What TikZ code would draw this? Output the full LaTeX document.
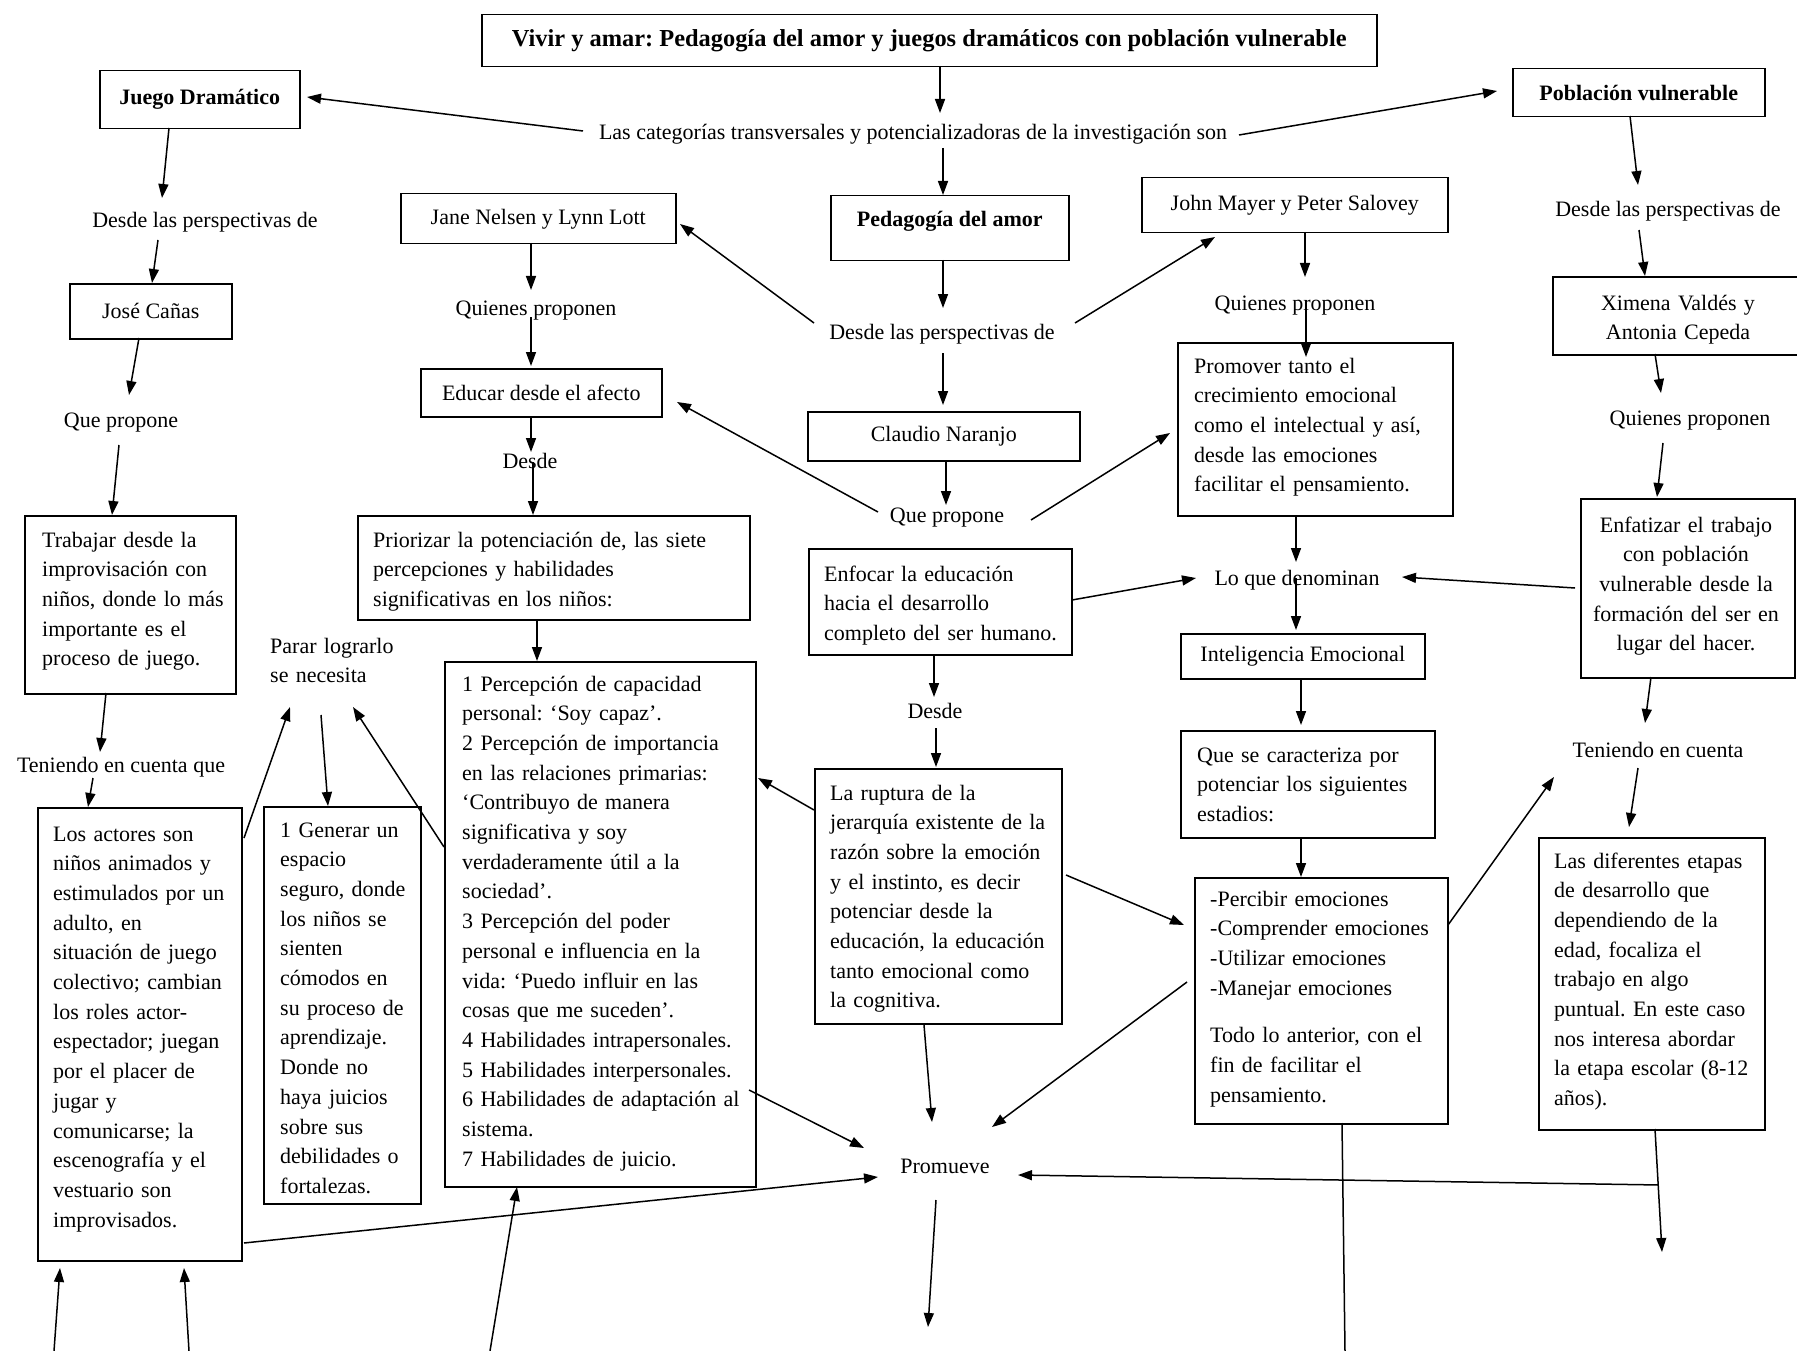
\documentclass[tikz,border=0pt]{standalone}
\usepackage{fontspec}
\setmainfont{Liberation Serif}
\usetikzlibrary{arrows.meta,calc}
\begin{document}
\begin{tikzpicture}[x=1pt,y=-1pt,
  fnt/.style={font=\frenchspacing\fontsize{22}{29.7}\selectfont},
  box/.style={draw, line width=1.5pt, rectangle, inner sep=0pt, anchor=north west, fnt},
  lbl/.style={fnt, inner sep=0pt, anchor=base},
  mtxt/.style={fnt, inner sep=0pt, anchor=base west, text width=300pt, align=left},
  ctxt/.style={fnt, inner sep=0pt, anchor=base, text width=240pt, align=center},
  arr/.style={-{Triangle[length=14pt,width=10pt]}, line width=1.5pt},
  ln/.style={line width=1.5pt}]
\fill[white] (0,0) rectangle (1797,1351);
\useasboundingbox (0,0) rectangle (1797,1351);

% ---------- boxes ----------
\node[box, minimum width=895pt, minimum height=52pt, font=\frenchspacing\fontsize{24.4}{29.7}\selectfont] (title) at (481,14) {\bfseries Vivir y amar: Pedagogía del amor y juegos dramáticos con población vulnerable};
\node[box, minimum width=200pt, minimum height=58pt] (jd) at (99,70) {\bfseries Juego Dramático};
\node[box, minimum width=252pt, minimum height=48pt] (pv) at (1512,68) {\bfseries Población vulnerable};
\node[box, minimum width=238pt, minimum height=65pt, text height=16pt, text depth=19pt] (pa) at (830,195) {\bfseries Pedagogía del amor};
\node[box, minimum width=275pt, minimum height=50pt] (jn) at (400,193) {Jane Nelsen y Lynn Lott};
\node[box, minimum width=306pt, minimum height=55pt] (jm) at (1141,177) {John Mayer y Peter Salovey};
\node[box, minimum width=162pt, minimum height=55pt] (jc) at (69,283) {José Cañas};
\node[box, minimum width=256pt, minimum height=78pt] (xv) at (1552,276) {};
\node[box, minimum width=241pt, minimum height=48pt] (ea) at (420,368) {Educar desde el afecto};
\node[box, minimum width=272pt, minimum height=49pt] (cn) at (807,411) {Claudio Naranjo};
\node[box, minimum width=275pt, minimum height=173pt] (prov) at (1177,342) {};
\node[box, minimum width=214pt, minimum height=179pt] (enft) at (1580,498) {};
\node[box, minimum width=211pt, minimum height=178pt] (trab) at (24,515) {};
\node[box, minimum width=392pt, minimum height=104pt] (pri) at (357,515) {};
\node[box, minimum width=263pt, minimum height=106pt] (enf) at (808,548) {};
\node[box, minimum width=244pt, minimum height=45pt] (ie) at (1180,633) {Inteligencia Emocional};
\node[box, minimum width=311pt, minimum height=525pt] (list) at (444,661) {};
\node[box, minimum width=254pt, minimum height=107pt] (qsc) at (1180,730) {};
\node[box, minimum width=247pt, minimum height=255pt] (rup) at (814,768) {};
\node[box, minimum width=204pt, minimum height=453pt] (actores) at (37,807) {};
\node[box, minimum width=157pt, minimum height=397pt] (gen) at (263,806) {};
\node[box, minimum width=226pt, minimum height=292pt] (etapas) at (1538,837) {};
\node[box, minimum width=253pt, minimum height=246pt] (perc) at (1194,877) {};

% ---------- box texts ----------
\node[ctxt] (xvT) at (1678,310) {Ximena Valdés y\\Antonia Cepeda};
\node[ctxt, text width=210pt] (enftT) at (1686,532) {Enfatizar el trabajo\\con población\\vulnerable desde la\\formación del ser en\\lugar del hacer.};
\node[mtxt] (trabT) at (42,547) {Trabajar desde la\\improvisación con\\niños, donde lo más\\importante es el\\proceso de juego.};
\node[mtxt, text width=400pt] (priT) at (373,547) {Priorizar la potenciación de, las siete\\percepciones y habilidades\\significativas en los niños:};
\node[mtxt] (listT) at (462,691) {1 Percepción de capacidad\\personal: ‘Soy capaz’.\\2 Percepción de importancia\\en las relaciones primarias:\\‘Contribuyo de manera\\significativa y soy\\verdaderamente útil a la\\sociedad’.\\3 Percepción del poder\\personal e influencia en la\\vida: ‘Puedo influir en las\\cosas que me suceden’.\\4 Habilidades intrapersonales.\\5 Habilidades interpersonales.\\6 Habilidades de adaptación al\\sistema.\\7 Habilidades de juicio.};
\node[mtxt] (actT) at (53,841) {Los actores son\\niños animados y\\estimulados por un\\adulto, en\\situación de juego\\colectivo; cambian\\los roles actor-\\espectador; juegan\\por el placer de\\jugar y\\comunicarse; la\\escenografía y el\\vestuario son\\improvisados.};
\node[mtxt] (genT) at (280,837) {1 Generar un\\espacio\\seguro, donde\\los niños se\\sienten\\cómodos en\\su proceso de\\aprendizaje.\\Donde no\\haya juicios\\sobre sus\\debilidades o\\fortalezas.};
\node[mtxt] (enfT) at (824,581) {Enfocar la educación\\hacia el desarrollo\\completo del ser humano.};
\node[mtxt] (rupT) at (830,800) {La ruptura de la\\jerarquía existente de la\\razón sobre la emoción\\y el instinto, es decir\\potenciar desde la\\educación, la educación\\tanto emocional como\\la cognitiva.};
\node[mtxt] (provT) at (1194,373) {Promover tanto el\\crecimiento emocional\\como el intelectual y así,\\desde las emociones\\facilitar el pensamiento.};
\node[mtxt] (qscT) at (1197,762) {Que se caracteriza por\\potenciar los siguientes\\estadios:};
\node[mtxt] (percT) at (1210,906) {-Percibir emociones\\-Comprender emociones\\-Utilizar emociones\\-Manejar emociones\\[18pt]Todo lo anterior, con el\\fin de facilitar el\\pensamiento.};
\node[mtxt] (etT) at (1554,868) {Las diferentes etapas\\de desarrollo que\\dependiendo de la\\edad, focaliza el\\trabajo en algo\\puntual. En este caso\\nos interesa abordar\\la etapa escolar (8-12\\años).};

% ---------- labels ----------
\node[lbl] (cat) at (913,140) {Las categorías transversales y potencializadoras de la investigación son};
\node[lbl] (dpL) at (205,228) {Desde las perspectivas de};
\node[lbl] (qpL) at (121,427) {Que propone};
\node[lbl] (tecq) at (121,772) {Teniendo en cuenta que};
\node[mtxt, text width=150pt] (parar) at (270,653) {Parar lograrlo\\se necesita};
\node[lbl] (qpnL) at (536,315) {Quienes proponen};
\node[lbl] (desde1) at (530,468) {Desde};
\node[lbl] (dpC) at (942,339) {Desde las perspectivas de};
\node[lbl] (qpC) at (947,522) {Que propone};
\node[lbl] (desde2) at (935,718) {Desde};
\node[lbl] (prom) at (945,1173) {Promueve};
\node[lbl] (qpnC) at (1295,310) {Quienes proponen};
\node[lbl] (lqd) at (1297,585) {Lo que denominan};
\node[lbl] (dpR) at (1668,217) {Desde las perspectivas de};
\node[lbl] (qpnR) at (1690,425) {Quienes proponen};
\node[lbl] (tecR) at (1658,757) {Teniendo en cuenta};

% ---------- free ends ----------
\coordinate (f1) at (54,1351);
\coordinate (f2) at (189,1351);
\coordinate (f3) at (490,1351);
\coordinate (f4) at (928,1327);
\coordinate (f5) at (1345,1351);
\coordinate (f6) at (1662,1252);

% ---------- connectors ----------
\draw[arr] ($(title.north west)+(459,52)$) -- ($(cat.base)+(27,-27)$);
\draw[arr] ($(cat.base)+(-330,-9)$) -- ($(jd.north west)+(208,27)$);
\draw[arr] ($(cat.base)+(326,-5)$) -- ($(pv.north west)+(-15,23)$);
\draw[arr] ($(cat.base)+(30,8)$) -- ($(pa.north west)+(113,0)$);
\draw[arr] ($(jd.north west)+(70,58)$) -- ($(dpL.base)+(-43,-30)$);
\draw[arr] ($(dpL.base)+(-47,12)$) -- ($(jc.north west)+(83,0)$);
\draw[arr] ($(jc.north west)+(70,55)$) -- ($(qpL.base)+(8,-32)$);
\draw[arr] ($(qpL.base)+(-2,18)$) -- ($(trab.north west)+(88,0)$);
\draw[arr] ($(trab.north west)+(82,178)$) -- ($(tecq.base)+(-21,-20)$);
\draw[arr] ($(tecq.base)+(-28,6)$) -- ($(actores.north west)+(51,0)$);
\draw[arr] ($(actores.north west)+(207,31)$) -- ($(parar.base west)+(20,54)$);
\draw[arr] ($(parar.base west)+(51,62)$) -- ($(gen.north west)+(65,0)$);
\draw[arr] ($(list.north west)+(0,186)$) -- ($(parar.base west)+(83,54)$);
\draw[arr] ($(actores.north west)+(207,436)$) -- ($(prom.base)+(-67,4)$);
\draw[arr] (f1) -- ($(actores.north west)+(23,461)$);
\draw[arr] (f2) -- ($(actores.north west)+(147,461)$);
\draw[arr] (f3) -- ($(list.north west)+(73,526)$);
\draw[arr] ($(list.north west)+(305,429)$) -- ($(prom.base)+(-81,-25)$);
\draw[arr] ($(rup.north west)+(0,42)$) -- ($(list.north west)+(314,117)$);
\draw[arr] ($(jn.north west)+(131,50)$) -- ($(qpnL.base)+(-5,-25)$);
\draw[arr] ($(qpnL.base)+(-5,2)$) -- ($(ea.north west)+(111,-2)$);
\draw[arr] ($(ea.north west)+(111,48)$) -- ($(desde1.base)+(1,-16)$);
\draw[arr] ($(desde1.base)+(3,-6)$) -- ($(pri.north west)+(176,0)$);
\draw[arr] ($(pri.north west)+(180,104)$) -- ($(list.north west)+(93,0)$);
\draw[arr] ($(pa.north west)+(113,65)$) -- ($(dpC.base)+(1,-31)$);
\draw[arr] ($(dpC.base)+(1,14)$) -- ($(cn.north west)+(136,-6)$);
\draw[arr] ($(dpC.base)+(-128,-16)$) -- ($(jn.north west)+(280,31)$);
\draw[arr] ($(dpC.base)+(133,-16)$) -- ($(jm.north west)+(74,60)$);
\draw[arr] ($(cn.north west)+(139,49)$) -- ($(qpC.base)+(-1,-17)$);
\draw[arr] ($(qpC.base)+(-69,-10)$) -- ($(ea.north west)+(257,34)$);
\draw[arr] ($(qpC.base)+(84,-2)$) -- ($(prov.north west)+(-7,91)$);
\draw[arr] ($(jm.north west)+(164,55)$) -- ($(qpnC.base)+(10,-33)$);
\draw[arr] ($(qpnC.base)+(11,-10)$) -- ($(prov.north west)+(129,15)$);
\draw[arr] ($(prov.north west)+(119,173)$) -- ($(lqd.base)+(-1,-23)$);
\draw[arr] ($(lqd.base)+(-1,-7)$) -- ($(ie.north west)+(116,-3)$);
\draw[arr] ($(enf.north west)+(264,52)$) -- ($(lqd.base)+(-101,-7)$);
\draw[arr] ($(enft.north west)+(-5,90)$) -- ($(lqd.base)+(105,-8)$);
\draw[arr] ($(ie.north west)+(121,45)$) -- ($(qsc.north west)+(121,-5)$);
\draw[arr] ($(qsc.north west)+(121,107)$) -- ($(perc.north west)+(107,0)$);
\draw[arr] ($(enf.north west)+(126,106)$) -- ($(desde2.base)+(-1,-21)$);
\draw[arr] ($(desde2.base)+(1,10)$) -- ($(rup.north west)+(122,-1)$);
\draw[arr] ($(rup.north west)+(252,107)$) -- ($(perc.north west)+(-10,48)$);
\draw[arr] ($(rup.north west)+(110,257)$) -- ($(prom.base)+(-13,-51)$);
\draw[arr] ($(perc.north west)+(-7,105)$) -- ($(prom.base)+(47,-46)$);
\draw[arr] ($(prom.base)+(-9,27)$) -- (f4);
\draw[ln] ($(perc.north west)+(148,246)$) -- (f5);
\draw[arr] ($(perc.north west)+(254,48)$) -- ($(tecR.base)+(-104,20)$);
\draw[arr] ($(tecR.base)+(-20,11)$) -- ($(etapas.north west)+(91,-10)$);
\draw[arr] ($(etapas.north west)+(117,292)$) -- coordinate[pos=0.455] (jx) (f6);
\draw[arr] (jx) -- ($(prom.base)+(73,2)$);
\draw[arr] ($(pv.north west)+(118,48)$) -- ($(dpR.base)+(-30,-32)$);
\draw[arr] ($(dpR.base)+(-29,13)$) -- ($(xv.north west)+(93,0)$);
\draw[arr] ($(xv.north west)+(103,78)$) -- ($(qpnR.base)+(-29,-32)$);
\draw[arr] ($(qpnR.base)+(-27,18)$) -- ($(enft.north west)+(77,-1)$);
\draw[arr] ($(enft.north west)+(71,179)$) -- ($(tecR.base)+(-13,-34)$);
\end{tikzpicture}
\end{document}
